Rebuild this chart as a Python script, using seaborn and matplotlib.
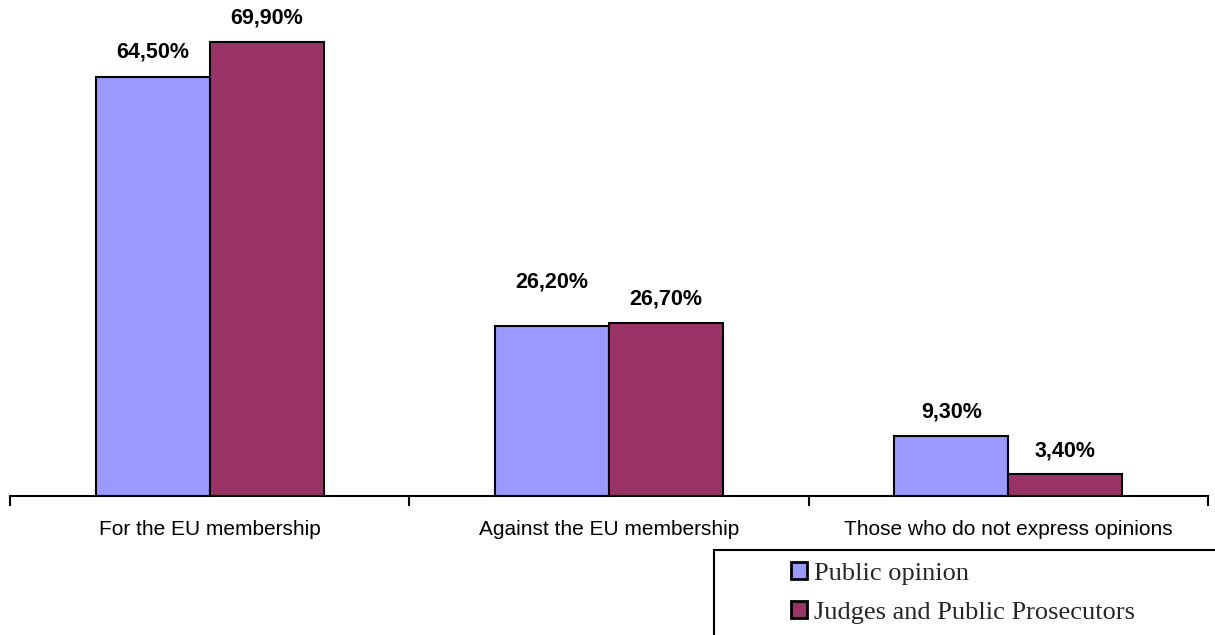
import matplotlib
matplotlib.use("Agg")
import matplotlib.pyplot as plt
from matplotlib.patches import Patch, Rectangle
import seaborn as sns
import pandas as pd

categories = ["For the EU membership", "Against the EU membership",
              "Those who do not express opinions"]
series_names = ["Public opinion", "Judges and Public Prosecutors"]
public_opinion = [64.5, 26.2, 9.3]
judges_prosecutors = [69.9, 26.7, 3.4]
colors = ["#9999FF", "#993366"]

rows = []
for name, vals in zip(series_names, [public_opinion, judges_prosecutors]):
    for cat, v in zip(categories, vals):
        rows.append({"category": cat, "series": name, "value": v})
df = pd.DataFrame(rows)

sns.set_theme(style="white")
plt.rcParams["font.family"] = ["Liberation Sans", "DejaVu Sans"]

fig = plt.figure(figsize=(12.15, 6.35), dpi=100)
ax = fig.add_axes([10 / 1215, 139 / 635, 1198 / 1215, 496 / 635])

sns.barplot(data=df, x="category", y="value", hue="series",
            order=categories, hue_order=series_names,
            palette=colors, width=0.571, edgecolor="black", linewidth=1.5,
            saturation=1, legend=False, ax=ax)

ax.set_xlim(-0.5, 2.5)
ax.set_ylim(0, 76.37)
ax.set_xlabel("")
ax.set_ylabel("")
ax.set_yticks([])
for side in ["top", "right", "left"]:
    ax.spines[side].set_visible(False)
ax.spines["bottom"].set_linewidth(1.5)
ax.spines["bottom"].set_color("black")

# category labels without tick marks; tick marks sit between categories
ax.tick_params(axis="x", which="major", length=0, pad=17, labelsize=15,
               labelcolor="black")
ax.set_xticks([-0.5, 0.5, 1.5, 2.5], minor=True)
ax.tick_params(axis="x", which="minor", length=7, width=1.5, color="black",
               direction="out", bottom=True)

# value labels above bars (px offsets; one lifted to avoid crowding)
offsets = [[25, 44, 24], [24, 24, 23]]
for ci, cont in enumerate(ax.containers):
    for bi, bar in enumerate(cont):
        v = bar.get_height()
        ax.annotate(f"{v:.2f}".replace(".", ",") + "%",
                    (bar.get_x() + bar.get_width() / 2, v),
                    xytext=(0, offsets[ci][bi] * 0.72), textcoords="offset points",
                    ha="center", va="center", fontsize=15.5, fontweight="bold",
                    color="black")

# legend box running off the lower-right edge
fig.patches.append(Rectangle((714 / 1215, -0.05), 0.5, (635 - 550) / 635 + 0.05,
                             transform=fig.transFigure, fill=False,
                             edgecolor="black", linewidth=1.5))
handles = [Patch(facecolor=c, edgecolor="black", linewidth=2) for c in colors]
fig.legend(handles, series_names, loc="upper left",
           bbox_to_anchor=(791 / 1215, 1 - 562 / 635), frameon=False,
           prop={"family": ["Liberation Serif", "DejaVu Serif"], "size": 19},
           handlelength=0.62, handleheight=0.62, handletextpad=0.25,
           labelspacing=0.6, borderpad=0, borderaxespad=0)

fig.savefig("out.png", dpi=100)
